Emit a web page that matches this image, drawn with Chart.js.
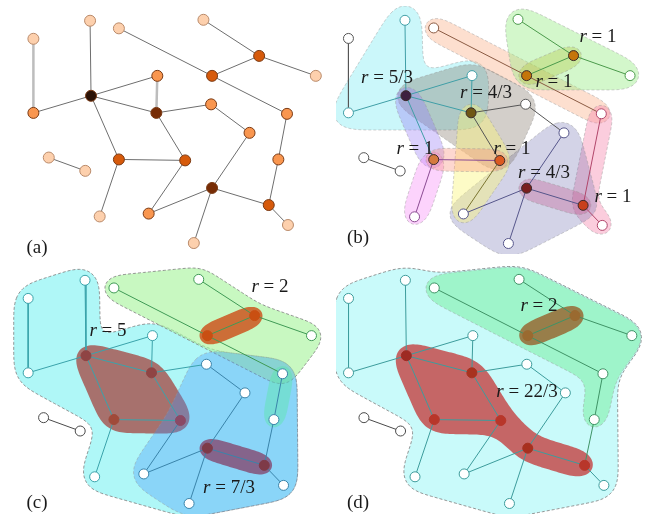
<!DOCTYPE html>
<html>
<head>
<meta charset="utf-8">
<script src="https://cdn.jsdelivr.net/npm/chart.js@4.4.1/dist/chart.umd.min.js"></script>
<style>
  body { margin: 0; background: #fff; }
  #grid { position: relative; width: 660px; height: 520px; }
  #grid canvas { position: absolute; }
</style>
</head>
<body>
<div id="grid">
  <canvas id="panelA" width="330" height="260" style="left:0;top:0"></canvas>
  <canvas id="panelB" width="330" height="260" style="left:330px;top:0"></canvas>
  <canvas id="panelC" width="330" height="260" style="left:0;top:260px"></canvas>
  <canvas id="panelD" width="330" height="260" style="left:330px;top:260px"></canvas>
</div>
<script>
// graph layout (same node positions in every panel)
const nodeNames = ['A','B','C','D','E','F','G','H','I','J','K','L','M','N','O','P','Q','R','S','T','U','V','W','X','Y'];
const nodeX = [87, 28, 117, 205, 263, 322, 214, 157, 88, 28, 156, 213, 292, 253, 44, 82, 117, 186, 283, 214, 273, 293, 97, 148, 195];
const nodeY = [15, 34, 23, 14, 52, 73, 73, 73, 94, 112, 112, 103, 113, 133, 159, 173, 161, 162, 161, 191, 209, 230, 221, 218, 249];
const edgeList = [['A','I'],['B','J'],['C','G'],['D','E'],['E','G'],['E','F'],['G','M'],['H','I'],['H','K'],['I','J'],['I','K'],['I','Q'],
  ['K','L'],['K','R'],['L','N'],['N','T'],['M','S'],['S','U'],['O','P'],['Q','R'],['Q','W'],['R','X'],['X','T'],['T','U'],['T','Y'],['U','V']];
const lightEdgesA = [['B','J'],['H','K']];

// panel (b): node S is merged away
const hiddenB = ['S'];
const edgeListB = edgeList.filter(e => !e.includes('S')).concat([['M','U']]);

// hull memberships, nodes listed in order round the outline
const hullsB = [['A','I','H','K','J'], ['C','G','M'], ['D','F','G'], ['G','E'], ['M','U','V'], ['N','U','Y','X'],
  ['I','H','L','R'], ['I','Q'], ['Q','W'], ['K','R','X'], ['Q','R'], ['T','U']];
const openB = [false, true, false, true, true, false, false, true, true, false, true, true];
const hullsC = [['B','A','I','H','L','M','V','Y','W','Q','J'], ['C','D','E','F','M','G'], ['I','K','R','Q'],
  ['L','M','V','Y','X','R'], ['M','S'], ['E','G'], ['T','U']];
const openC = [false, false, false, false, true, true, true];
const hullsD = [['B','A','C','D','F','M','V','Y','W','Q','J'], ['C','D','F','M','S','M','G'], ['E','G'], ['I','K','R','T','U','T','R','Q']];
const openD = [false, false, true, false];

// labels
const panelTags = ['(a)', '(b)', '(c)', '(d)'];
const labelsB = ['r = 5/3', 'r = 4/3', 'r = 1', 'r = 1', 'r = 1', 'r = 1', 'r = 4/3', 'r = 1'];
const labelsC = ['r = 2', 'r = 5', 'r = 7/3'];
const labelsD = ['r = 2', 'r = 22/3'];

// ---- styles / layout ----
const labelPosB = [[57,78],[156,93],[224,82],[268,37],[85,149],[182,149],[214,173],[283,197]];
const labelPosC = [[270,27],[108,71],[229,228]];
const labelPosD = [[209,46],[197,132]];
const tagPos = [[37,248],[28,238],[37,243],[28,243]];

const degreeColors = {1:'#fdd0ad', 2:'#f9964f', 3:'#d65a0b', 4:'#772c05', 5:'#2b1206'};

const tonesB = 'tnogggotttnnrsnnpyrsrrpss';
const toneColorsB = {t:'#3f9ea6', n:'#555555', o:'#8a5a42', g:'#4b9a4b', r:'#b0456a', s:'#55558a', p:'#8a4a92', y:'#7a7430'};
const fillsB = {I:'#3d1f3f', K:'#6f5716', G:'#c5750a', E:'#c5750a', Q:'#d47a3e', R:'#db5a22', T:'#7a1e1e', U:'#c8401c'};
const hullColorsB = ['rgba(140,238,245,0.45)','rgba(250,175,135,0.4)','rgba(150,235,130,0.42)','rgba(170,190,40,0.3)',
  'rgba(245,130,170,0.4)','rgba(110,110,175,0.3)','rgba(110,95,80,0.3)','rgba(150,120,245,0.35)',
  'rgba(245,130,245,0.35)','rgba(250,245,120,0.42)','rgba(250,140,120,0.35)','rgba(190,70,130,0.3)'];
const hullPadsB = [18, 13, 15, 12, 13, 16, 14, 15, 14, 13, 12, 12];

const tonesC = 'ttgggggttttuuunntuuuuutuu';
const toneColorsC = {t:'#3aa3ab', u:'#3a84aa', g:'#3f9a55', n:'#4a4a4a'};
const fillsC = {E:'#c94f12', G:'#c94f12', I:'#8f4444', K:'#8f4444', Q:'#a04a3a', R:'#8a4a66', T:'#7e3a48', U:'#7e3a48'};
const hullColorsC = ['#aff7f7','rgba(170,245,160,0.65)','rgba(165,75,70,0.78)','rgba(70,150,250,0.35)',
  'rgba(90,230,170,0.45)','rgba(205,75,20,0.8)','rgba(130,40,80,0.65)'];
const hullPadsC = [15, 13, 14, 15, 12, 12, 12];

const tonesD = 'ttgggggtttttgtnnttgtttttt';
const toneColorsD = {t:'#3d9c9c', g:'#3f9366', n:'#4a4a4a'};
const fillsD = {E:'#9a6a30', G:'#9a6a30', I:'#9e2a22', K:'#a8321f', Q:'#b8362a', R:'#b8362a', T:'#a8301f', U:'#b8362a'};
const hullColorsD = ['#c9fafa','rgba(130,240,170,0.6)','rgba(150,80,25,0.72)','rgba(195,45,45,0.72)'];
const hullPadsD = [15, 14, 13, 15];

const dashFaint = 'rgba(150,150,150,0.45)';
const dashGray = 'rgba(130,130,130,0.85)';
const noLine = 'rgba(0,0,0,0)';

function pos(n) {
  const i = nodeNames.indexOf(n);
  return {x: nodeX[i], y: nodeY[i]};
}

// padded, rounded outline round a list of nodes
function outline(names, open, pad) {
  let loop = names.map(pos);
  if (open) loop = loop.concat(loop.slice(1, -1).reverse());
  else {
    let area = 0;
    loop.forEach((p, i) => { const q = loop[(i + 1) % loop.length]; area += p.x * q.y - q.x * p.y; });
    if (area < 0) loop.reverse();
  }
  const out = [];
  const n = loop.length;
  const unit = (dx, dy) => { const l = Math.hypot(dx, dy) || 1; return {x: dx / l, y: dy / l}; };
  for (let i = 0; i < n; i++) {
    const p0 = loop[(i - 1 + n) % n], p = loop[i], p1 = loop[(i + 1) % n];
    const d1 = unit(p.x - p0.x, p.y - p0.y), d2 = unit(p1.x - p.x, p1.y - p.y);
    const n1 = {x: d1.y, y: -d1.x}, n2 = {x: d2.y, y: -d2.x};
    const dot = d1.x * d2.x + d1.y * d2.y, cr = d1.x * d2.y - d1.y * d2.x;
    const ang = dot < -0.9999 ? Math.PI : Math.atan2(cr, dot);
    if (ang >= 0) {
      const a0 = Math.atan2(n1.y, n1.x);
      const steps = Math.max(1, Math.ceil(ang / (Math.PI / 16)));
      for (let k = 0; k <= steps; k++) {
        const a = a0 + ang * k / steps;
        out.push({x: p.x + pad * Math.cos(a), y: p.y + pad * Math.sin(a)});
      }
    } else {
      const f = pad / Math.max(1 + n1.x * n2.x + n1.y * n2.y, 0.35);
      out.push({x: p.x + (n1.x + n2.x) * f, y: p.y + (n1.y + n2.y) * f});
    }
  }
  return soften(out, Math.max(2, Math.round(pad / 3)), 3);
}

// even spacing, then a few rounds of running mean, so corners and dents go soft
function soften(pts, half, passes) {
  const step = 2;
  let cur = [];
  pts.forEach((a, i) => {
    const b = pts[(i + 1) % pts.length];
    const k = Math.max(1, Math.round(Math.hypot(b.x - a.x, b.y - a.y) / step));
    for (let j = 0; j < k; j++) cur.push({x: a.x + (b.x - a.x) * j / k, y: a.y + (b.y - a.y) * j / k});
  });
  for (let p = 0; p < passes; p++) {
    const n = cur.length;
    cur = cur.map((_, i) => {
      let sx = 0, sy = 0;
      for (let j = -half; j <= half; j++) { const q = cur[(i + j + n) % n]; sx += q.x; sy += q.y; }
      return {x: sx / (2 * half + 1), y: sy / (2 * half + 1)};
    });
  }
  cur.push(cur[0]);
  return cur;
}

function edgeSets(edges, colorOf, width) {
  const groups = {};
  edges.forEach(([a, b]) => {
    const c = colorOf(a, b);
    (groups[c] = groups[c] || []).push(pos(a), pos(b), {x: null, y: null});
  });
  return Object.entries(groups).map(([c, data]) => ({
    data, showLine: true, borderColor: c, borderWidth: width, pointRadius: 0, spanGaps: false, tension: 0, order: 5
  }));
}

function hullSets(hulls, open, colors, pads, borders) {
  return hulls.map((h, k) => ({
    data: outline(h, open[k], pads[k]),
    showLine: true, fill: 'shape', backgroundColor: colors[k],
    borderColor: borders[k], borderWidth: 1, borderDash: [3, 2],
    pointRadius: 0, tension: 0, order: 100 - k
  }));
}

function labelPlugin(texts, places, tag, tagAt) {
  return {
    id: 'labels',
    afterDraw(chart) {
      const ctx = chart.ctx;
      ctx.save();
      ctx.fillStyle = '#1a1a1a';
      ctx.textBaseline = 'middle';
      const serif = '"Liberation Serif", "DejaVu Serif", serif';
      texts.forEach((t, i) => {
        const [cx, cy] = places[i];
        const head = t.slice(0, 1), rest = t.slice(1);
        ctx.font = 'italic 19px ' + serif;
        const w1 = ctx.measureText(head).width;
        ctx.font = '19px ' + serif;
        const w2 = ctx.measureText(rest).width;
        const x0 = cx - (w1 + w2) / 2;
        ctx.textAlign = 'left';
        ctx.font = 'italic 19px ' + serif;
        ctx.fillText(head, x0, cy);
        ctx.font = '19px ' + serif;
        ctx.fillText(rest, x0 + w1, cy);
      });
      ctx.font = '19px ' + serif;
      ctx.textAlign = 'center';
      ctx.fillText(tag, tagAt[0], tagAt[1]);
      ctx.restore();
    }
  };
}

function makePanel(id, xRange, datasets, plugin) {
  return new Chart(document.getElementById(id), {
    type: 'scatter',
    data: {datasets},
    options: {
      responsive: false, animation: false, events: [],
      layout: {padding: 0},
      scales: {
        x: {type: 'linear', min: xRange[0], max: xRange[1], display: false},
        y: {type: 'linear', min: 0, max: 260, reverse: true, display: false}
      },
      plugins: {legend: {display: false}, tooltip: {enabled: false}}
    },
    plugins: [plugin]
  });
}

function nodeSet(hidden, fillOf, borderOf, radius) {
  const shown = nodeNames.filter(n => !hidden.includes(n));
  return {
    data: shown.map(pos), showLine: false, order: 0,
    pointRadius: radius, pointBorderWidth: 1,
    pointBackgroundColor: shown.map(fillOf), pointBorderColor: shown.map(borderOf)
  };
}

// (a) centrality coloured by degree
const degree = {};
edgeList.forEach(([a, b]) => { degree[a] = (degree[a] || 0) + 1; degree[b] = (degree[b] || 0) + 1; });
const isLight = (a, b) => lightEdgesA.some(e => e[0] === a && e[1] === b);
makePanel('panelA', [0, 330], [
  nodeSet([], n => degreeColors[degree[n]], n => degree[n] === 1 ? '#b98a6a' : '#7a3a14', 5.5),
  ...edgeSets(edgeList.filter(e => !isLight(e[0], e[1])), () => '#6e6e6e', 1),
  ...edgeSets(lightEdgesA, () => '#bdbdbd', 2.5)
], labelPlugin([], [], panelTags[0], tagPos[0]));

const tone = (tones, colors) => n => colors[tones[nodeNames.indexOf(n)]];

// (b)
const toneB = tone(tonesB, toneColorsB);
makePanel('panelB', [15, 347], [
  nodeSet(hiddenB, n => fillsB[n] || '#ffffff', n => fillsB[n] ? '#3a2a2a' : toneB(n), 5),
  ...edgeSets(edgeListB, a => toneB(a), 1),
  ...hullSets(hullsB, openB, hullColorsB, hullPadsB, hullsB.map(() => dashFaint))
], labelPlugin(labelsB, labelPosB, panelTags[1], tagPos[1]));

// (c)
const toneC = tone(tonesC, toneColorsC);
makePanel('panelC', [5, 335], [
  nodeSet([], n => fillsC[n] || '#ffffff', n => fillsC[n] || toneC(n), 5),
  ...edgeSets(edgeList, a => toneC(a), 1),
  ...hullSets(hullsC, openC, hullColorsC, hullPadsC,
    [dashGray, dashGray, noLine, dashFaint, noLine, noLine, noLine])
], labelPlugin(labelsC, labelPosC, panelTags[2], tagPos[2]));

// (d)
const toneD = tone(tonesD, toneColorsD);
makePanel('panelD', [15, 345], [
  nodeSet([], n => fillsD[n] || '#ffffff', n => fillsD[n] || toneD(n), 5),
  ...edgeSets(edgeList, a => toneD(a), 1),
  ...hullSets(hullsD, openD, hullColorsD, hullPadsD, [dashGray, dashFaint, noLine, noLine])
], labelPlugin(labelsD, labelPosD, panelTags[3], tagPos[3]));
</script>
</body>
</html>
